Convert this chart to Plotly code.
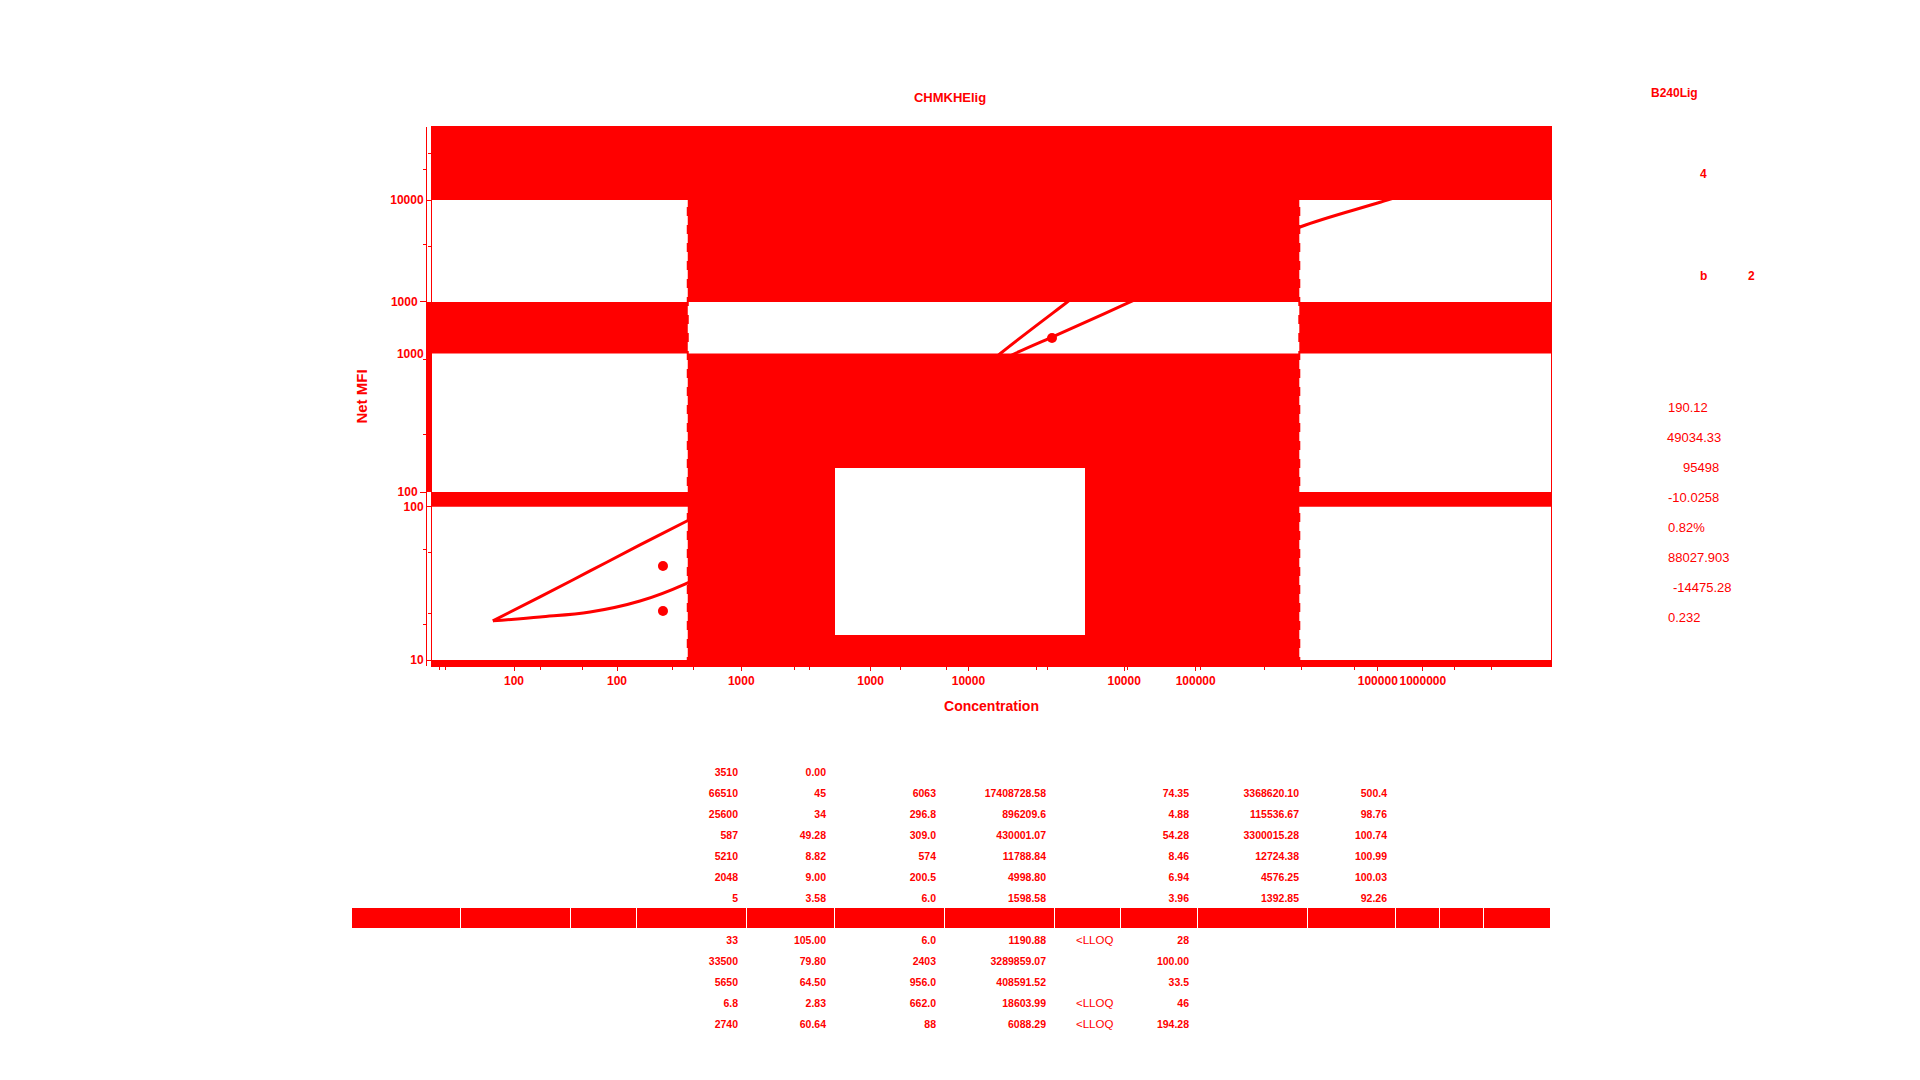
import math
import plotly.graph_objects as go

RED = "rgb(255,0,0)"
WHITE = "rgb(255,255,255)"

# ---- calibration data (Concentration vs Net MFI) ----
conc_fit_a = [32.4, 49.7, 78.3, 123.2, 185.4, 366.4, 829.8, 1795, 3744, 5192, 10350, 21790, 49340, 102900, 246000, 456000]
mfi_fit_a = [18.0, 25.8, 38.1, 56.3, 79.5, 140.6, 280.6, 543.3, 1006, 1279, 2133, 3715, 6675, 9719, 15025, 19980]
conc_fit_b = [32.4, 49.7, 78.3, 123.2, 185.4, 366.4, 829.8, 1566, 2652, 3268, 5896, 10540, 19910, 49340, 146700, 456000]
mfi_fit_b = [18.0, 19.08, 20.56, 24.26, 31.3, 56.3, 161, 427.4, 745, 1006, 2133, 4385, 7194, 11290, 13520, 15250]
std_conc = [151.8, 151.8, 5192]
std_mfi = [41.0, 20.9, 1260]
LLOQ = 190.12
ULOQ = 49034.33

# ---- tick labels ----
x_tickvals = [10, 100, 1000, 10000, 100000, 1000000]
x_ticktext = ["10", "100", "1000", "10000", "100000", "1000000"]
y_tickvals = [10, 100, 1000, 10000, 100000]
y_ticktext = ["10", "100", "1000", "10000", "100000"]

# ---- side panel texts ----
panel_title = "B240Lig"
panel_values = ["190.12", "49034.33", "95498", "-10.0258", "0.82%", "88027.903", "-14475.28", "0.232"]

# ---- table columns ----
col_expected = ["3510", "66510", "25600", "587", "5210", "2048", "5", "", "33", "33500", "5650", "6.8", "2740"]
col_cv = ["0.00", "45", "34", "49.28", "8.82", "9.00", "3.58", "", "105.00", "79.80", "64.50", "2.83", "60.64"]
col_mfi = ["", "6063", "296.8", "309.0", "574", "200.5", "6.0", "", "6.0", "2403", "956.0", "662.0", "88"]
col_calc = ["", "17408728.58", "896209.6", "430001.07", "11788.84", "4998.80", "1598.58", "", "1190.88", "3289859.07", "408591.52", "18603.99", "6088.29"]
col_flag = ["", "", "", "", "", "", "", "", "<LLOQ", "", "", "<LLOQ", "<LLOQ"]
col_bias = ["", "74.35", "4.88", "54.28", "8.46", "6.94", "3.96", "", "28", "100.00", "33.5", "46", "194.28"]
col_back = ["", "3368620.10", "115536.67", "3300015.28", "12724.38", "4576.25", "1392.85", "", "", "", "", "", ""]
col_rec = ["", "500.4", "98.76", "100.74", "100.99", "100.03", "92.26", "", "", "", "", "", ""]
band_row = 7

# ---- layout geometry ----
W, H = 1920, 1080
XD = [432 / W, 1551 / W]
YD = [1 - 666 / H, 1 - 127 / H]
XB = [1.2705, 5.683]
YB = [0.9609, 4.4769]
XA = [1.639, 6.564]
YA = [1.0842, 3.921]
TABLE_LEFT, TABLE_RIGHT, TABLE_TOP, ROW_H = 351, 1550, 760, 21

tickfont = dict(family="Liberation Sans", size=12, color=RED, weight="bold")

fig = go.Figure()

fig.add_trace(go.Scatter(x=conc_fit_a, y=mfi_fit_a, mode="lines", line=dict(color=RED, width=3, shape="spline"),
                         hoverinfo="skip"))
fig.add_trace(go.Scatter(x=conc_fit_b, y=mfi_fit_b, mode="lines", line=dict(color=RED, width=3, shape="spline"),
                         hoverinfo="skip"))
fig.add_trace(go.Scatter(x=std_conc, y=std_mfi, mode="markers", marker=dict(color=RED, size=10),
                         hoverinfo="skip"))
fig.add_trace(go.Scatter(x=[None], y=[None], xaxis="x2", yaxis="y2", mode="markers", hoverinfo="skip"))


def frac(v, rng):
    return (math.log10(v) - rng[0]) / (rng[1] - rng[0])


shapes = []
for k in [1, 2, 3, 4]:
    fa = frac(10 ** k, YA)
    fb = frac(10 ** k, YB)
    y0 = max(0, min(fa, fb))
    y1 = min(1, max(fa, fb))
    if y1 > y0:
        shapes.append(dict(type="rect", xref="x domain", yref="y domain", x0=0, x1=1, y0=y0, y1=y1,
                           fillcolor=RED, line=dict(width=0), layer="below"))
# quantifiable range block
shapes.append(dict(type="rect", xref="x", yref="y domain", x0=LLOQ, x1=ULOQ, y0=0, y1=1,
                   fillcolor=RED, line=dict(width=0), layer="below"))
shapes.append(dict(type="rect", xref="x", yref="y domain", x0=LLOQ, x1=ULOQ,
                   y0=frac(1000, YB), y1=frac(1000, YA), fillcolor=WHITE, line=dict(width=0), layer="below"))
# left bar between the two y axis lines
shapes.append(dict(type="rect", xref="paper", yref="y domain", x0=426 / W, x1=432 / W,
                   y0=frac(100, YA), y1=frac(1000, YA), fillcolor=RED, line=dict(width=0), layer="below"))
# LLOQ / ULOQ dashed lines
for v in [LLOQ, ULOQ]:
    shapes.append(dict(type="line", xref="x", yref="y domain", x0=v, x1=v, y0=0, y1=1,
                       line=dict(color=RED, width=2, dash="dash"), layer="below"))
# legend box
shapes.append(dict(type="rect", xref="paper", yref="paper", x0=835 / W, x1=1085 / W,
                   y0=1 - 635 / H, y1=1 - 468 / H, fillcolor=WHITE, line=dict(width=0), layer="above"))

# ---- table ----
blank = [""] * 13
flag_in_table = ["" for _ in col_flag]  # flag text drawn as annotations (markup chars resize table rows)
cols = [blank, blank, blank, col_expected, col_cv, col_mfi, col_calc, flag_in_table,
        col_bias, col_back, col_rec, blank, blank, blank]
col_widths = [109, 110, 66.5, 109.5, 88, 110, 110, 66, 77, 110, 88, 44, 44, 67]
header_vals = [c[0] for c in cols]
cell_vals = [c[1:] for c in cols]
cell_fill = [[RED if (i + 1) == band_row else WHITE for i in range(len(cell_vals[0]))] for _ in cols]
tfont = dict(family="Liberation Sans", size=10.5, color=RED, weight="bold")
fig.add_trace(go.Table(
    domain=dict(x=[TABLE_LEFT / W, TABLE_RIGHT / W], y=[0, 1 - TABLE_TOP / H]),
    columnwidth=col_widths,
    header=dict(values=header_vals, height=ROW_H, fill_color=WHITE, line=dict(color=WHITE, width=1),
                align="right", font=tfont),
    cells=dict(values=cell_vals, height=ROW_H, fill_color=cell_fill, line=dict(color=WHITE, width=1),
               align="right", font=tfont),
))

annotations = []
flag_right = TABLE_LEFT + sum(col_widths[:8]) - 5
for i, t in enumerate(col_flag):
    if t:
        annotations.append(dict(text=t.replace("<", "&lt;"), xref="paper", yref="paper",
                                x=flag_right / W, y=1 - (TABLE_TOP + ROW_H * i + ROW_H / 2 + 1) / H,
                                xanchor="right", yanchor="middle", showarrow=False,
                                font=dict(family="Liberation Sans", size=11.5, color=RED)))

bold12 = dict(family="Liberation Sans", size=12, color=RED, weight="bold")
annotations.append(dict(text=panel_title, xref="paper", yref="paper", x=1649 / W, y=1 - 93 / H,
                        xanchor="left", yanchor="middle", showarrow=False, font=bold12))
annotations.append(dict(text="4", xref="paper", yref="paper", x=1698 / W, y=1 - 174 / H,
                        xanchor="left", yanchor="middle", showarrow=False, font=bold12))
annotations.append(dict(text="b", xref="paper", yref="paper", x=1698 / W, y=1 - 276 / H,
                        xanchor="left", yanchor="middle", showarrow=False, font=bold12))
annotations.append(dict(text="2", xref="paper", yref="paper", x=1746 / W, y=1 - 276 / H,
                        xanchor="left", yanchor="middle", showarrow=False, font=bold12))
panel_x = [1666, 1665, 1681, 1666, 1666, 1666, 1671, 1666]
for i, t in enumerate(panel_values):
    annotations.append(dict(text=t, xref="paper", yref="paper", x=panel_x[i] / W, y=1 - (407.5 + 30 * i) / H,
                            xanchor="left", yanchor="middle", showarrow=False,
                            font=dict(family="Liberation Sans", size=13, color=RED)))

axis_common = dict(type="log", ticks="outside", tickcolor=RED,
                   showgrid=False, zeroline=False, tickfont=tickfont, linecolor=RED, linewidth=1)
minor_ticks = dict(ticks="outside", ticklen=3, tickcolor=RED, showgrid=False, dtick="D2")

fig.update_layout(
    width=W, height=H, margin=dict(l=0, r=0, t=0, b=0),
    paper_bgcolor=WHITE, plot_bgcolor=WHITE, showlegend=False,
    title=dict(text="CHMKHElig", x=950 / W, y=1 - 97 / H, xanchor="center", yanchor="middle",
               font=dict(family="Liberation Sans", size=13, color=RED, weight="bold")),
    xaxis=dict(axis_common, range=XB, domain=XD, anchor="y", ticklen=4, showline=True, mirror=True,
               tickmode="array", tickvals=x_tickvals, ticktext=x_ticktext, minor=minor_ticks,
               title=dict(text="Concentration", standoff=13,
                          font=dict(family="Liberation Sans", size=14, color=RED, weight="bold"))),
    xaxis2=dict(axis_common, range=XA, domain=XD, overlaying="x", anchor="y", side="bottom", ticklen=4,
                tickmode="array", tickvals=x_tickvals, ticktext=x_ticktext, showline=False,
                minor=minor_ticks),
    yaxis=dict(axis_common, range=YB, domain=YD, anchor="x", ticklen=5, showline=True, mirror=True,
               tickmode="array", tickvals=y_tickvals, ticktext=y_ticktext, minor=minor_ticks,
               title=dict(text="Net MFI", standoff=18,
                          font=dict(family="Liberation Sans", size=15, color=RED, weight="bold"))),
    yaxis2=dict(axis_common, range=YA, domain=YD, overlaying="y", anchor="free", position=426 / W,
                side="left", ticklen=6, showline=True,
                tickmode="array", tickvals=y_tickvals, ticktext=y_ticktext, minor=minor_ticks),
    shapes=shapes,
    annotations=annotations,
)

fig.write_html("out.html")
